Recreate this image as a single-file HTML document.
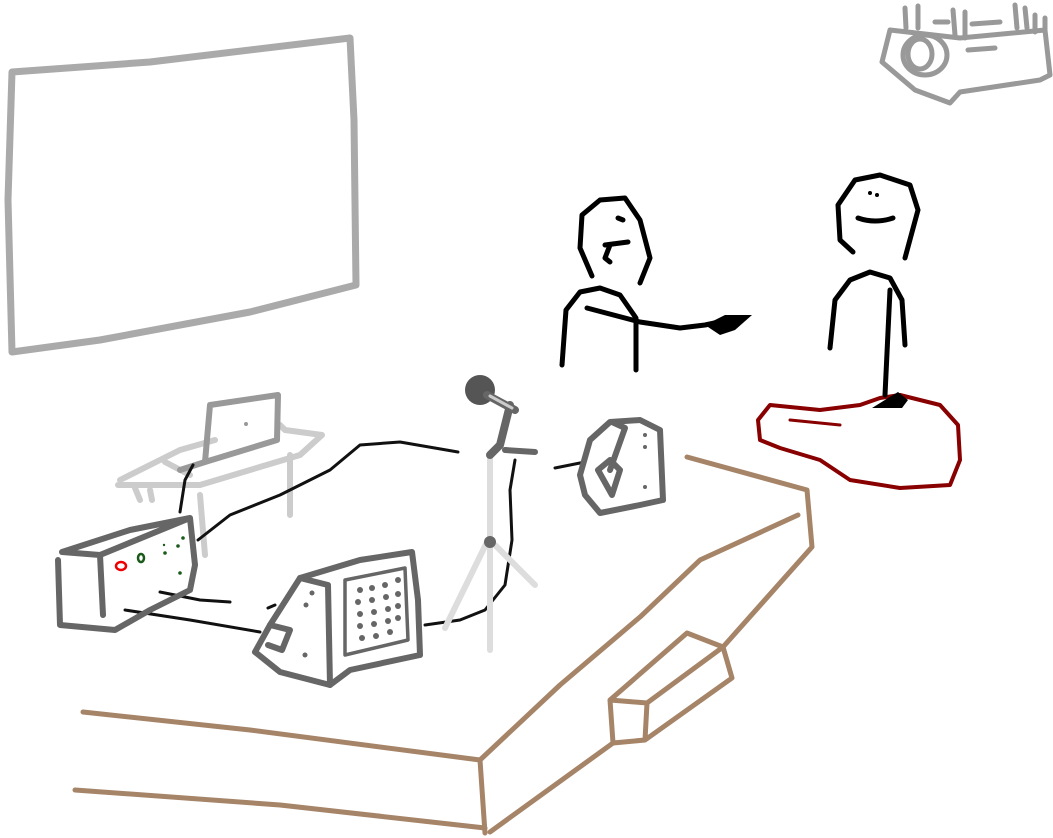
<!DOCTYPE html>
<html><head><meta charset="utf-8"><style>html,body{margin:0;padding:0;background:#fff}svg{display:block}</style></head>
<body>
<svg width="1053" height="838" viewBox="0 0 1053 838" xmlns="http://www.w3.org/2000/svg" fill="none" stroke-linecap="round" stroke-linejoin="round">
<!-- screen -->
<path d="M12,72 L150,62 L350,38 L354,120 L356,285 L250,312 L100,340 L12,352 L8,200 Z" stroke="#aaa" stroke-width="7"/>
<!-- projector -->
<g stroke="#999" stroke-width="5">
<path d="M890,30 L960,38 L1045,30 L1050,75 L1040,80 L960,92 L950,103 L915,90 L882,62 Z"/>
<ellipse cx="925" cy="55" rx="22" ry="20"/>
<ellipse cx="920" cy="54" rx="12" ry="15"/>
<path d="M905,8 L906,28 M918,6 L918,28 M953,10 L955,35 M965,12 L965,38 M1015,5 L1017,28 M1025,8 L1027,28 M1035,15 L1035,32 M1045,18 L1045,32 M935,22 L948,22 M972,24 L1000,22 M968,50 L995,48"/>
</g>
<!-- stage -->
<g stroke="#a68468" stroke-width="5">
<path d="M687,457 L807,490 L812,547 L723,647"/>
<path d="M798,515 L700,560 L640,617 L560,685 L480,760 L485,833"/>
<path d="M83,712 L250,730 L480,760"/>
<path d="M75,790 L280,805 L485,828"/>
<path d="M613,743 L490,832"/>
<path d="M610,700 L687,633 L723,647 L732,678 L645,740 L647,703 L610,700 L613,743 L645,740"/>
<path d="M647,703 L723,647"/>
</g>
<!-- table + laptop -->
<g stroke="#ccc" stroke-width="6">
<path d="M120,480 L180,450 L215,440 M118,485 L200,485 L300,455 L322,435 L285,430 L280,425 M135,488 L140,500 M150,490 L152,500 M290,455 L290,515 M200,495 L205,555 M165,462 L190,475"/>
</g>
<g stroke="#999" stroke-width="6">
<path d="M210,405 L278,395 L277,440 L205,462 Z"/>
<path d="M180,470 L205,462"/>
</g>
<circle cx="246" cy="424" r="2" fill="#999"/>
<!-- cables -->
<g stroke="#111" stroke-width="3">
<path d="M198,540 L230,515 L280,495 L330,470 L360,445 L400,442 L458,452"/>
<path d="M193,465 L185,480 L180,512"/>
<path d="M160,592 L200,600 L230,602"/>
<path d="M125,610 L190,620 L260,632"/>
<path d="M268,608 L275,605"/>
<path d="M425,625 L460,620 L485,610 L505,585 L512,540 L510,490 L515,460"/>
<path d="M555,468 L585,462"/>
</g>
<!-- mixer box -->
<g stroke="#666" stroke-width="6">
<path d="M62,552 L130,530 L190,518 L195,565 L190,590 L150,610 L115,630 L60,625 L58,560 M62,552 L100,555 L190,518 M100,555 L103,615"/>
</g>
<ellipse cx="121" cy="566" rx="5" ry="4" stroke="#e00" stroke-width="2.5"/>
<ellipse cx="141" cy="558" rx="3" ry="4" stroke="#1a5a1a" stroke-width="2.5"/>
<g fill="#1a5a1a"><circle cx="165" cy="553" r="1.8"/><circle cx="178" cy="546" r="1.8"/><circle cx="183" cy="538" r="1.8"/><circle cx="180" cy="573" r="1.8"/><circle cx="164" cy="545" r="1.2"/></g>
<!-- left speaker -->
<g stroke="#666" stroke-width="6">
<path d="M300,578 L360,560 L412,552 L418,600 L420,655 L350,670 L330,685 L280,672 L255,652 L270,625 Z"/>
<path d="M300,578 L328,585 L330,685"/>
<path d="M270,625 L290,630 L282,650 L268,645"/>
</g>
<g stroke="#666" stroke-width="3.5"><path d="M345,580 L405,568 L408,640 L345,655 Z"/></g>
<g fill="#666">
<circle cx="360" cy="590" r="3"/><circle cx="372" cy="588" r="3"/><circle cx="385" cy="585" r="3"/><circle cx="398" cy="580" r="3"/>
<circle cx="358" cy="602" r="3"/><circle cx="372" cy="600" r="3"/><circle cx="386" cy="597" r="3"/><circle cx="398" cy="594" r="3"/>
<circle cx="360" cy="614" r="3"/><circle cx="374" cy="612" r="3"/><circle cx="388" cy="609" r="3"/><circle cx="398" cy="606" r="3"/>
<circle cx="360" cy="626" r="3"/><circle cx="374" cy="624" r="3"/><circle cx="388" cy="621" r="3"/><circle cx="398" cy="618" r="3"/>
<circle cx="362" cy="638" r="3"/><circle cx="376" cy="636" r="3"/><circle cx="390" cy="632" r="3"/>
<circle cx="312" cy="593" r="2.5"/><circle cx="306" cy="605" r="2.5"/><circle cx="305" cy="655" r="2.5"/>
</g>
<!-- mic stand -->
<g stroke="#ddd" stroke-width="6">
<path d="M490,455 L490,650 M488,540 L445,628 M495,545 L535,585"/>
</g>
<circle cx="490" cy="542" r="6" fill="#666"/>
<circle cx="480" cy="390" r="15" fill="#555"/>
<g stroke="#666" stroke-width="8"><path d="M487,395 L515,410 M510,405 L500,445 L490,455"/></g>
<path d="M490,396 L512,408" stroke="#ccc" stroke-width="3"/>
<path d="M505,450 L535,452" stroke="#666" stroke-width="6"/>
<!-- right speaker -->
<g stroke="#666" stroke-width="6">
<path d="M580,475 L590,440 L610,422 L640,420 L660,430 L663,500 L640,505 L600,513 L585,495 Z"/>
<path d="M612,422 L625,428 L610,470 M598,470 L612,495 L620,470 L610,460 Z"/>
</g>
<circle cx="645" cy="435" r="2" fill="#666"/><circle cx="645" cy="447" r="2" fill="#666"/><circle cx="645" cy="487" r="2" fill="#666"/>
<!-- guitar case -->
<path d="M770,405 L820,410 L860,405 L880,398 L900,395 L940,405 L958,425 L960,460 L950,485 L900,488 L850,480 L820,460 L780,448 L760,440 L758,420 Z" stroke="#800" stroke-width="4"/>
<path d="M790,420 L840,425" stroke="#800" stroke-width="3"/>
<path d="M872,408 L898,392 L908,400 L902,408 Z" fill="#000"/>
<!-- persons -->
<g stroke="#000" stroke-width="5">
<path d="M592,276 L580,248 L582,215 L600,200 L625,198 L640,220 L650,258 L640,283"/>
<path d="M610,245 L605,258 L610,262 M605,245 L628,242"/>
<path d="M618,218 L623,220"/>
<path d="M562,365 L566,310 L580,292 L600,288 L620,295 L636,318 L636,370"/>
<path d="M587,308 L640,322 L680,328 L705,325 L738,318"/>
<path d="M853,252 L840,240 L838,205 L855,180 L880,175 L910,185 L918,210 L905,258"/>
<path d="M858,218 Q875,224 893,218"/>
<path d="M830,348 L835,300 L850,280 L870,272 L890,278 L902,300 L905,345"/>
<path d="M890,290 L885,395"/>
</g>
<path d="M705,325 L725,315 L752,315 L735,330 L720,335 Z" fill="#000"/>
<circle cx="870" cy="193" r="2" fill="#000"/><circle cx="877" cy="195" r="2" fill="#000"/>
</svg>
</body></html>
